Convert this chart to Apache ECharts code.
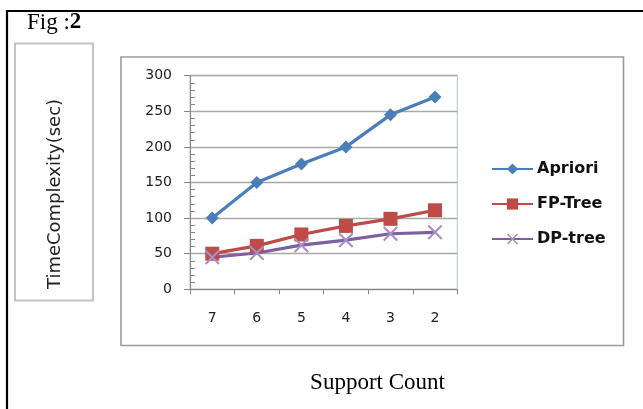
<!DOCTYPE html>
<html><head><meta charset="utf-8">
<script src="https://cdn.jsdelivr.net/npm/echarts@6/dist/echarts.min.js"></script>
<style>html,body{margin:0;padding:0;background:#fff}#c{width:643px;height:409px}</style>
</head><body><div id="c"></div>
<script>
const categories = ['7', '6', '5', '4', '3', '2'];
const apriori = [100, 150, 176, 200, 245, 270];
const fpTree = [50, 61, 77, 89, 99, 111];
const dpTree = [45, 51, 62, 69, 78, 80];
const seriesNames = ['Apriori', 'FP-Tree', 'DP-tree'];
const yTicks = { min: 0, max: 300, interval: 50 };

const xPath = 'path://M0,1 L1,0 L10,9 L9,10 Z M9,0 L10,1 L1,10 L0,9 Z';
const chart = echarts.init(document.getElementById('c'), null, { renderer: 'canvas' });
const sans = 'DejaVu Sans';
chart.setOption({
  animation: false,
  backgroundColor: '#fff',
  grid: { left: 190, top: 75.7, right: 185.7, bottom: 119.7, show: true, borderColor: '#a9c4e4', borderWidth: 1, backgroundColor: 'transparent' },
  xAxis: {
    type: 'category', data: categories, boundaryGap: true,
    axisLine: { lineStyle: { color: '#868686', width: 1 } },
    axisTick: { show: true, length: 5, lineStyle: { color: '#868686' } },
    axisLabel: { color: '#222', fontFamily: sans, fontSize: 14, margin: 22 },
    splitLine: { show: false }
  },
  yAxis: {
    type: 'value', min: yTicks.min, max: yTicks.max, interval: yTicks.interval,
    axisLine: { show: true, lineStyle: { color: '#868686', width: 1 } },
    axisTick: { show: true, length: 6, lineStyle: { color: '#868686' } },
    minorTick: { show: true, splitNumber: 5, length: -5, lineStyle: { color: '#868686' } },
    axisLabel: { color: '#222', fontFamily: sans, fontSize: 14, margin: 18 },
    splitLine: { lineStyle: { color: '#a8a8a8', width: 1.3 } }
  },
  legend: {
    orient: 'vertical', left: 486, top: 156, itemGap: 19, itemWidth: 41, itemHeight: 14,
    textStyle: { fontFamily: sans, fontSize: 16, fontWeight: 'bold', color: '#111', padding: [0, 0, 0, -1] },
    data: seriesNames
  },
  series: [
    { name: seriesNames[0], type: 'line', data: apriori, symbol: 'diamond', symbolSize: 13,
      lineStyle: { color: '#4a7ebb', width: 3.2 }, itemStyle: { color: '#4a7ebb' } },
    { name: seriesNames[1], type: 'line', data: fpTree, symbol: 'rect', symbolSize: 14,
      lineStyle: { color: '#be4b48', width: 3.2 }, itemStyle: { color: '#be4b48' } },
    { name: seriesNames[2], type: 'line', data: dpTree, symbol: xPath, symbolSize: 15,
      lineStyle: { color: '#7d60a0', width: 3.2 }, itemStyle: { color: '#a58fc6' } }
  ],
  graphic: [
    { type: 'line', shape: { x1: 7, y1: 11, x2: 643, y2: 11 }, style: { stroke: '#000', lineWidth: 2.2 }, z: 10 },
    { type: 'line', shape: { x1: 7, y1: 10, x2: 7, y2: 409 }, style: { stroke: '#000', lineWidth: 2.2 }, z: 10 },
    { type: 'rect', shape: { x: 15, y: 43.5, width: 78, height: 257 }, style: { fill: 'none', stroke: '#c4c4c4', lineWidth: 2 }, z: 10 },
    { type: 'rect', shape: { x: 121, y: 57, width: 502.5, height: 288.5 }, style: { fill: 'none', stroke: '#9a9a9a', lineWidth: 1.6 }, z: 10 },
    { type: 'text', x: 27, y: 34, style: { text: '{a|Fig :}{b|2}', rich: { a: { fontFamily: 'Liberation Serif', fontSize: 23, fill: '#000' }, b: { fontFamily: 'Liberation Serif', fontSize: 23, fontWeight: 'bold', fill: '#000' } }, textVerticalAlign: 'bottom', verticalAlign: 'bottom' }, z: 10 },
    { type: 'text', x: 55, y: 194, rotation: Math.PI / 2, style: { text: 'TimeComplexity(sec)', fontFamily: sans, fontSize: 18, fill: '#222', align: 'center', verticalAlign: 'middle' }, z: 10 },
    { type: 'text', x: 377.5, y: 383, style: { text: 'Support Count', fontFamily: 'Liberation Serif', fontSize: 23, fill: '#000', align: 'center', verticalAlign: 'middle' }, z: 10 }
  ]
});
</script></body></html>
